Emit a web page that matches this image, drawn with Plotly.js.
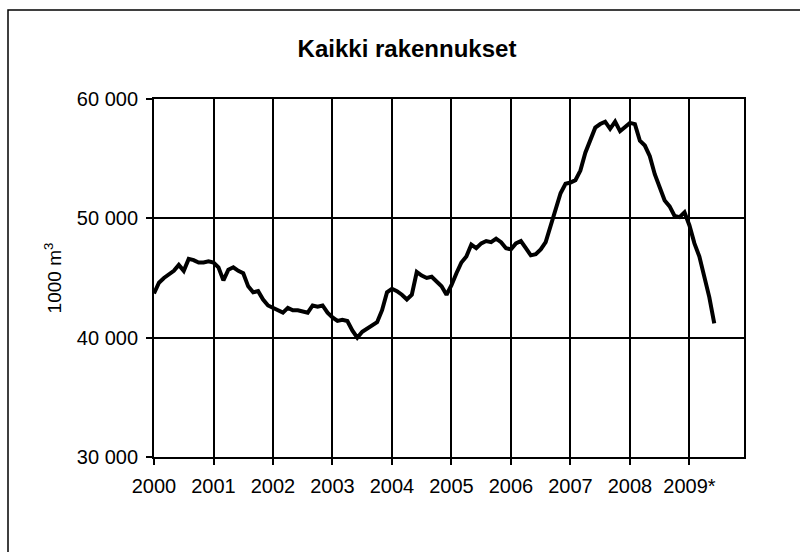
<!DOCTYPE html>
<html>
<head>
<meta charset="utf-8">
<script src="https://cdn.plot.ly/plotly-3.0.1.min.js"></script>
<style>
  html, body { margin: 0; padding: 0; background: #fff; }
  #chart { width: 800px; height: 552px; }
</style>
</head>
<body>
<div id="chart"></div>
<script>
// Monthly series, Jan 2000 - Jun 2009, 1000 m3
const startYear = 2000;
const values = [
  43700, 44600, 45000, 45300, 45600, 46100, 45600, 46600, 46500, 46300, 46300, 46400,
  46300, 45900, 44800, 45700, 45900, 45600, 45400, 44300, 43800, 43900, 43200, 42700,
  42500, 42300, 42100, 42500, 42300, 42300, 42200, 42100, 42700, 42600, 42700, 42100,
  41700, 41400, 41500, 41400, 40600, 40000, 40500, 40800, 41100, 41300, 42300, 43800,
  44100, 43900, 43600, 43200, 43600, 45500, 45200, 45000, 45100, 44700, 44300, 43600,
  44400, 45400, 46300, 46800, 47800, 47500, 47900, 48100, 48000, 48300, 48000, 47500,
  47400, 47900, 48100, 47500, 46900, 47000, 47400, 48000, 49300, 50800, 52100, 52900,
  53000, 53200, 54000, 55500, 56600, 57600, 57900, 58100, 57500, 58100, 57300, 57700,
  58000, 57900, 56500, 56100, 55200, 53700, 52600, 51500, 51000, 50200, 50100, 50500,
  49400, 47900, 46800, 45200, 43400, 41200
];
const monthX = values.map((v, i) => startYear + i / 12);
const tickYears = [2000, 2001, 2002, 2003, 2004, 2005, 2006, 2007, 2008, 2009];
const tickLabels = ["2000", "2001", "2002", "2003", "2004", "2005", "2006", "2007", "2008", "2009*"];
const yTicks = [30000, 40000, 50000, 60000];

const font = "Liberation Sans, Arial, sans-serif";
const L = 154, R = 56, T = 99, B = 95;
const pw = 800 - L - R, ph = 552 - T - B;
const px = x => (x - L) / pw;
const py = y => (552 - B - y) / ph;

const trace = {
  x: monthX,
  y: values,
  type: "scatter",
  mode: "lines",
  line: { color: "#000", width: 4, shape: "linear" },
  hoverinfo: "x+y"
};

const layout = {
  width: 800,
  height: 552,
  margin: { l: L, r: R, t: T, b: B },
  paper_bgcolor: "#fff",
  plot_bgcolor: "#fff",
  separators: ", ",
  showlegend: false,
  font: { family: font, color: "#000" },
  title: {
    text: "<b>Kaikki rakennukset</b>",
    font: { family: font, size: 24, color: "#000" },
    x: 407 / 800, xref: "container", xanchor: "center",
    y: 1 - 49 / 552, yref: "container", yanchor: "middle"
  },
  xaxis: {
    range: [2000, 2000 + 119 / 12],
    tickmode: "array",
    tickvals: tickYears,
    ticktext: tickLabels,
    ticks: "outside",
    ticklen: 6,
    tickwidth: 2,
    tickcolor: "#000",
    showgrid: true,
    gridcolor: "#000",
    gridwidth: 2,
    showline: true,
    linecolor: "#000",
    linewidth: 2,
    mirror: true,
    zeroline: false,
    tickfont: { family: font, size: 20, color: "#000" },
    ticklabelstandoff: 4
  },
  yaxis: {
    range: [30000, 60000],
    tickmode: "array",
    tickvals: yTicks,
    tickformat: ",.0f",
    ticks: "outside",
    ticklen: 6,
    tickwidth: 2,
    tickcolor: "#000",
    showgrid: true,
    gridcolor: "#000",
    gridwidth: 2,
    showline: true,
    linecolor: "#000",
    linewidth: 2,
    mirror: true,
    zeroline: false,
    tickfont: { family: font, size: 20, color: "#000" },
    ticklabelstandoff: 4,
    title: {
      text: "1000 m<sup>3</sup>",
      font: { family: font, size: 19, color: "#000" },
      standoff: 10
    }
  },
  shapes: [{
    type: "rect", xref: "paper", yref: "paper",
    x0: px(8), x1: px(810), y0: py(570), y1: py(10),
    line: { color: "#000", width: 1.5 },
    fillcolor: "rgba(0,0,0,0)",
    layer: "below"
  }]
};

Plotly.newPlot("chart", [trace], layout, { displayModeBar: false, staticPlot: true });
</script>
</body>
</html>
